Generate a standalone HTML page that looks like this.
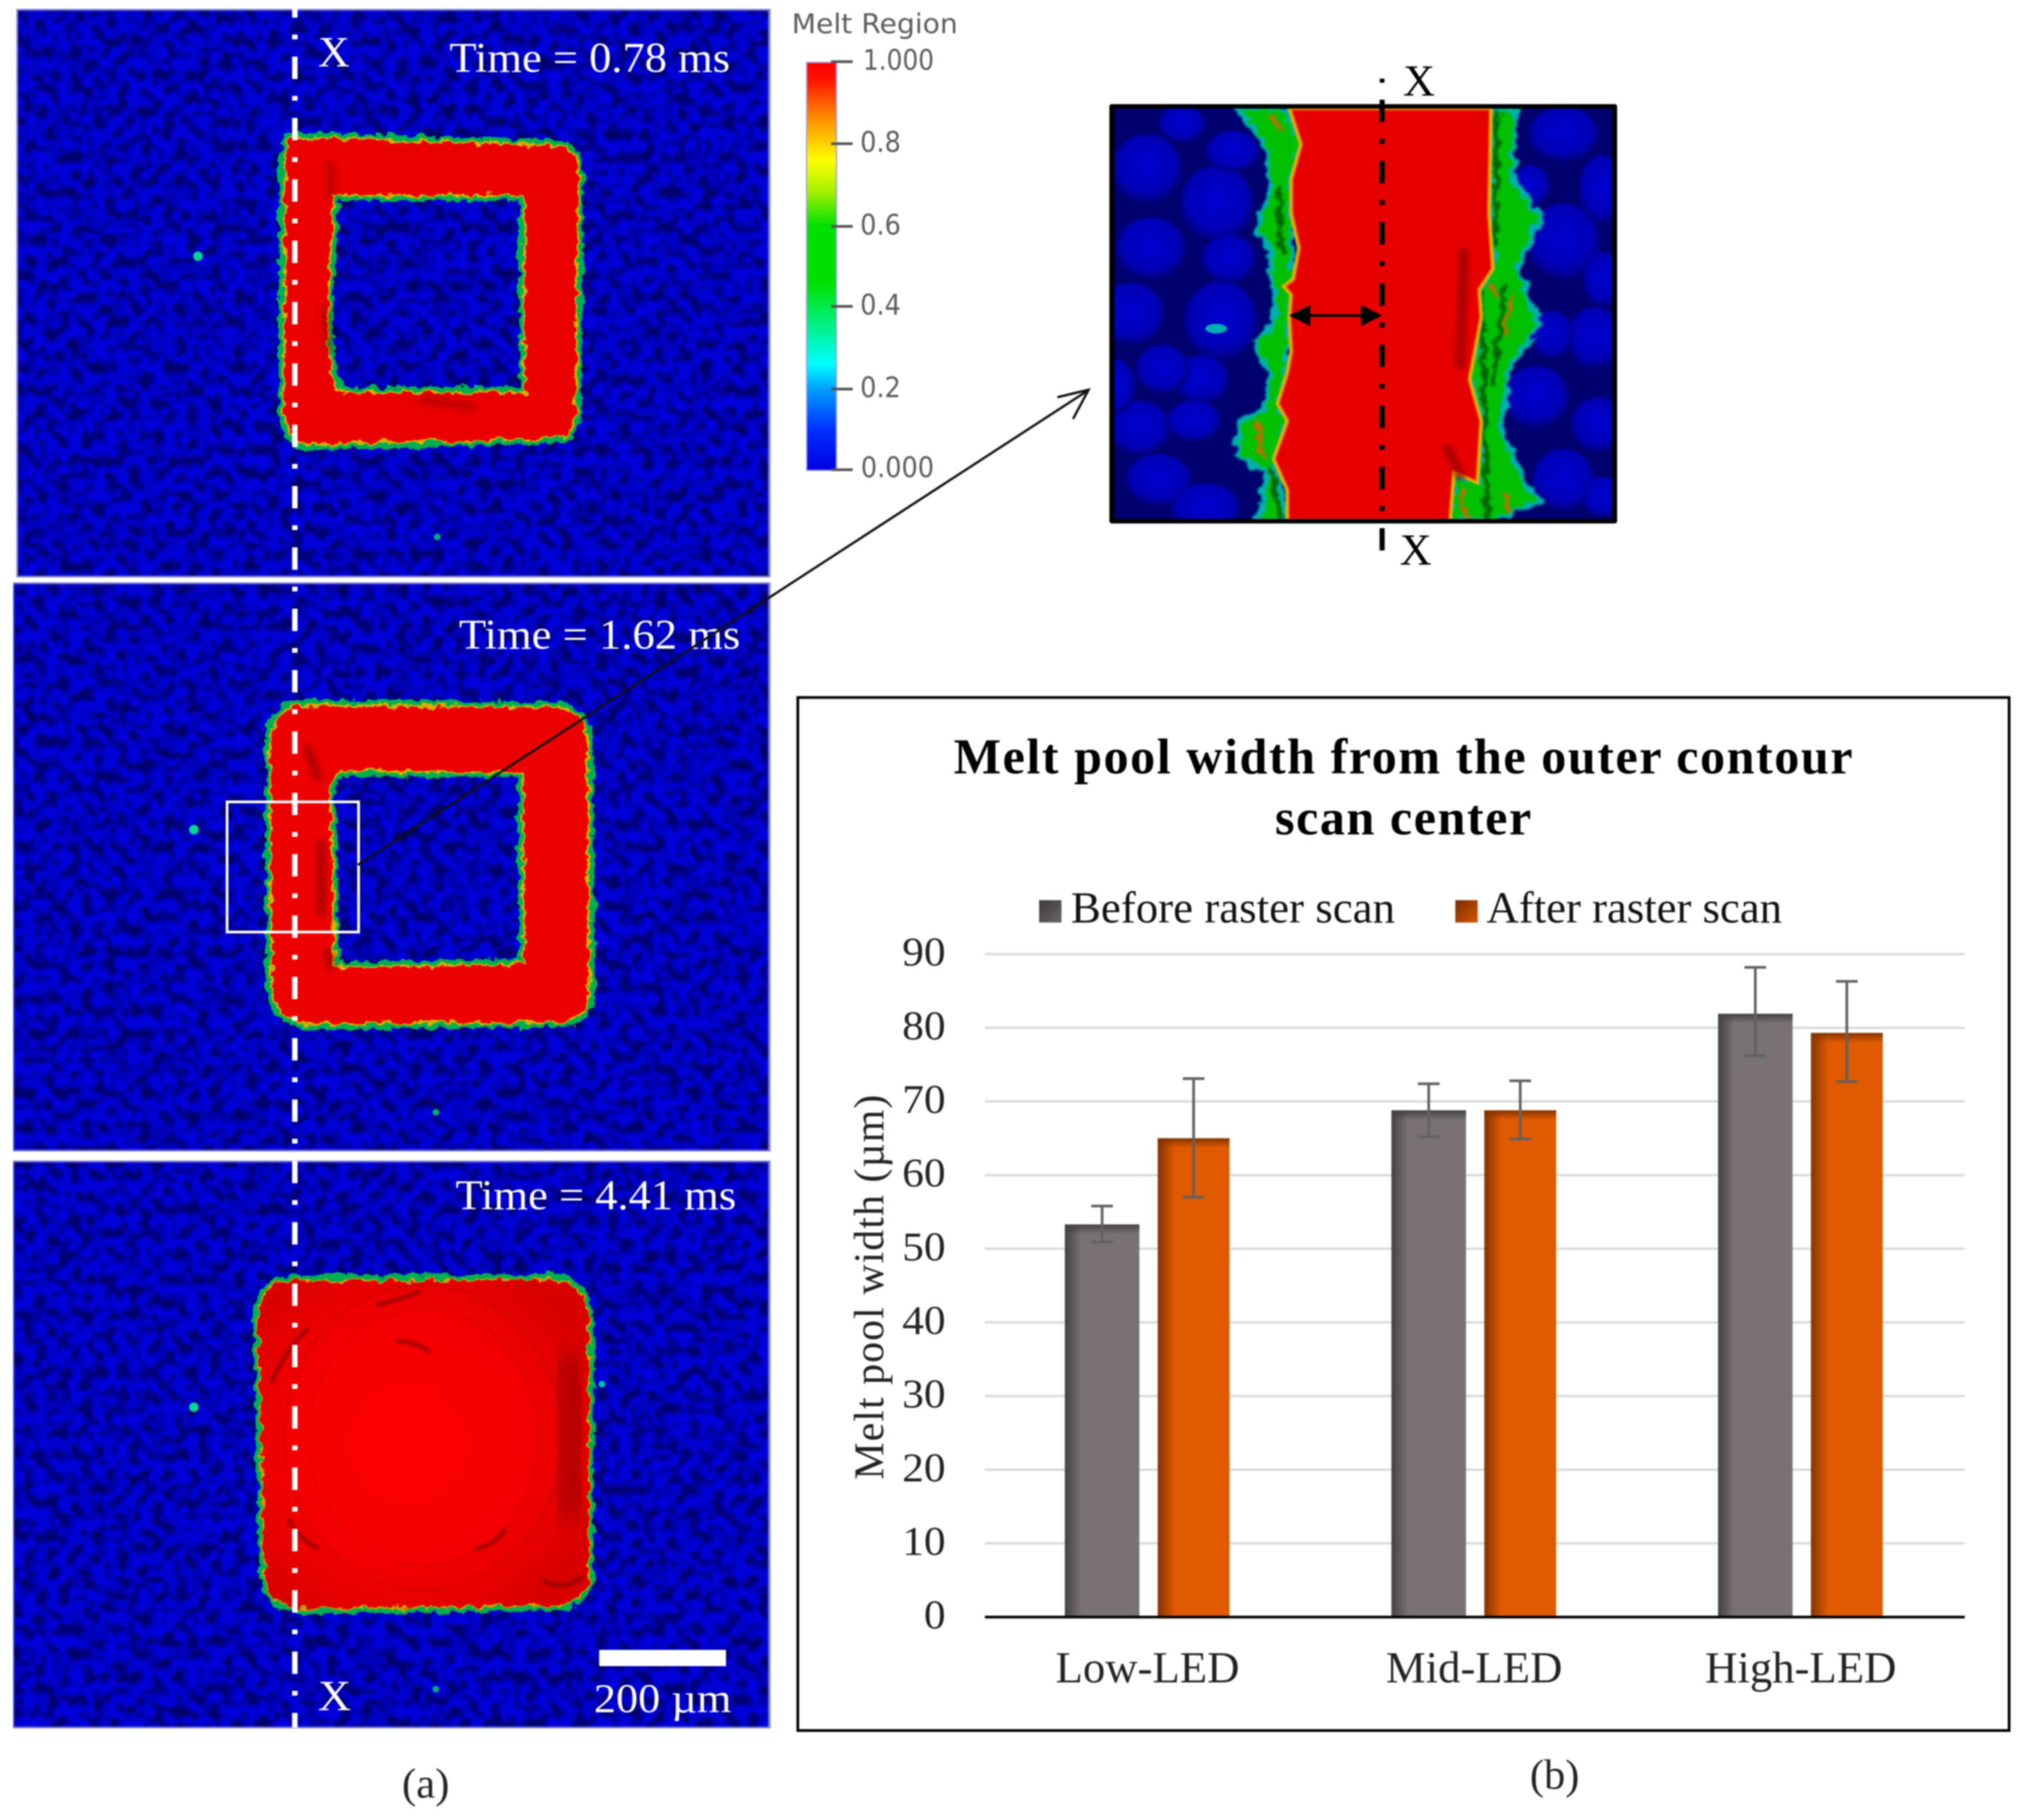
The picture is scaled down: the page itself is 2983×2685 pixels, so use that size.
<!DOCTYPE html>
<html lang="en">
<head>
<meta charset="utf-8">
<title>Melt region simulation and melt pool width chart</title>
<style>
html,body{margin:0;padding:0;background:#fff;}
svg{display:block;filter:blur(1.1px);}
text{font-family:"Liberation Serif",serif;}
.dim{font-family:"DejaVu Sans",sans-serif;fill:#5c5c5c;}
.white{fill:#fff;}
</style>
</head>
<body>
<svg id="root" xmlns="http://www.w3.org/2000/svg" width="2983" height="2685" viewBox="0 0 2983 2685">
<defs>
  <filter id="powder" x="0" y="0" width="1" height="1" color-interpolation-filters="sRGB">
    <feTurbulence type="fractalNoise" baseFrequency="0.058" numOctaves="2" seed="7"/>
    <feColorMatrix type="matrix" values="0 0 0 0 0  0 0 0 0 0  1 0 0 0 0  0 0 0 0 1"/>
    <feComponentTransfer>
      <feFuncB type="table" tableValues="0.4 0.4 0.42 0.5 0.74 0.86 0.86 0.86 0.86"/>
    </feComponentTransfer>
    <feGaussianBlur stdDeviation="1.5"/>
  </filter>
  <filter id="rough" filterUnits="userSpaceOnUse" x="300" y="100" width="700" height="2400" color-interpolation-filters="sRGB">
    <feTurbulence type="fractalNoise" baseFrequency="0.07" numOctaves="3" seed="4" result="n"/>
    <feDisplacementMap in="SourceGraphic" in2="n" scale="16" xChannelSelector="R" yChannelSelector="G"/>
  </filter>
  <filter id="roughInset" x="-20%" y="-10%" width="140%" height="120%" color-interpolation-filters="sRGB">
    <feTurbulence type="fractalNoise" baseFrequency="0.035" numOctaves="3" seed="9" result="n"/>
    <feDisplacementMap in="SourceGraphic" in2="n" scale="36" xChannelSelector="R" yChannelSelector="G"/>
    <feGaussianBlur stdDeviation="3"/>
  </filter>
  <filter id="soft" x="-80%" y="-30%" width="260%" height="160%"><feGaussianBlur stdDeviation="5"/></filter>
  <filter id="softWide" x="-150%" y="-30%" width="400%" height="160%"><feGaussianBlur stdDeviation="16"/></filter>
  <filter id="soft2" x="-50%" y="-50%" width="200%" height="200%"><feGaussianBlur stdDeviation="2"/></filter>
  <linearGradient id="cbar" x1="0" y1="1" x2="0" y2="0">
    <stop offset="0" stop-color="#0000e0"/><stop offset="0.1" stop-color="#0030ff"/>
    <stop offset="0.2" stop-color="#00a0ff"/><stop offset="0.26" stop-color="#00ffff"/>
    <stop offset="0.36" stop-color="#00f080"/><stop offset="0.46" stop-color="#00e000"/>
    <stop offset="0.6" stop-color="#00e000"/><stop offset="0.68" stop-color="#a0f000"/>
    <stop offset="0.76" stop-color="#ffff00"/><stop offset="0.86" stop-color="#ff9000"/>
    <stop offset="0.96" stop-color="#ff1000"/><stop offset="1" stop-color="#ff0000"/>
  </linearGradient>
  <radialGradient id="sphere" cx="0.5" cy="0.45" r="0.55">
    <stop offset="0" stop-color="#0000d0"/><stop offset="0.7" stop-color="#0000b8"/><stop offset="1" stop-color="#00007a"/>
  </radialGradient>
  <radialGradient id="meltFill" gradientUnits="userSpaceOnUse" cx="600" cy="2130" r="300">
    <stop offset="0" stop-color="#ff0000"/><stop offset="0.6" stop-color="#f40000"/><stop offset="1" stop-color="#d80000"/>
  </radialGradient>
  <linearGradient id="barGray" x1="0" y1="0" x2="1" y2="0">
    <stop offset="0" stop-color="#454141"/><stop offset="0.22" stop-color="#7a7272"/><stop offset="1" stop-color="#7a7272"/>
  </linearGradient>
  <linearGradient id="barOrange" x1="0" y1="0" x2="1" y2="0">
    <stop offset="0" stop-color="#843300"/><stop offset="0.24" stop-color="#e05a00"/><stop offset="1" stop-color="#e05a00"/>
  </linearGradient>
  <linearGradient id="legendGray" x1="0" y1="0" x2="1" y2="1">
    <stop offset="0" stop-color="#3d3939"/><stop offset="1" stop-color="#6c6666"/>
  </linearGradient>
  <linearGradient id="legendOrange" x1="0" y1="0" x2="1" y2="1">
    <stop offset="0" stop-color="#762c00"/><stop offset="1" stop-color="#d85500"/>
  </linearGradient>
  <linearGradient id="topGray" x1="0" y1="0" x2="0" y2="1">
    <stop offset="0" stop-color="#444040"/><stop offset="1" stop-color="#444040" stop-opacity="0"/>
  </linearGradient>
  <linearGradient id="topOrange" x1="0" y1="0" x2="0" y2="1">
    <stop offset="0" stop-color="#843300"/><stop offset="1" stop-color="#843300" stop-opacity="0"/>
  </linearGradient>
  <path id="ring1" fill-rule="evenodd" d="M430,204 L825,216 Q848,220 852,255 L848,615 Q846,642 815,645 L450,655 Q426,645 420,610 L421,240 Q421,210 430,204Z M490,287 L775,287 L775,580 L497,580 Q484,540 482,490Z"/>
  <path id="ring2" fill-rule="evenodd" d="M440,1042 L825,1045 Q862,1050 866,1090 L868,1470 Q866,1500 830,1506 L450,1510 Q405,1495 402,1460 L400,1090 Q402,1050 440,1042Z M505,1136 L773,1138 L775,1424 L492,1428 L486,1170 Q488,1140 505,1136Z"/>
  <path id="ring3" d="M430,1890 L825,1888 Q860,1895 868,1945 L868,2330 Q860,2365 825,2368 L435,2372 Q395,2365 390,2320 L382,1930 Q392,1892 430,1890Z"/>
  <clipPath id="insetClip"><rect x="140" y="190" width="1292" height="1200"/></clipPath>
</defs>

<rect width="2983" height="2685" fill="#fff"/>

<!-- Panel 1 -->
<g>
  <rect x="24" y="13" width="1113" height="839" fill="#8f8fdc"/>
  <rect x="26" y="15" width="1108" height="835" filter="url(#powder)"/>
  <g filter="url(#rough)">
    <use href="#ring1" fill="#00b400" stroke="#00b050" stroke-width="19"/>
    <use href="#ring1" fill="#d8c000" stroke="#d8b000" stroke-width="6"/>
    <use href="#ring1" fill="#ea0000"/>
  </g>
  <path d="M488,240 L488,290 M480,450 L484,520 M620,590 L700,600" stroke="#8a0000" stroke-width="10" fill="none" opacity="0.55" filter="url(#soft)"/>
  <circle cx="292" cy="378" r="7" fill="#00d890"/>
  <circle cx="645" cy="792" r="5" fill="#00a880"/>
</g>

<!-- Panel 2 -->
<g>
  <rect x="19" y="859" width="1118" height="840" fill="#8f8fdc"/>
  <rect x="20" y="861" width="1114" height="836" filter="url(#powder)"/>
  <g filter="url(#rough)">
    <use href="#ring2" fill="#00b400" stroke="#00b050" stroke-width="19"/>
    <use href="#ring2" fill="#d8c000" stroke="#d8b000" stroke-width="6"/>
    <use href="#ring2" fill="#ec0000"/>
  </g>
  <path d="M452,1100 L470,1150 M474,1240 L474,1350 M482,1400 L490,1430" stroke="#7a0000" stroke-width="10" fill="none" opacity="0.65" filter="url(#soft)"/>
  <circle cx="286" cy="1224" r="7" fill="#00d890"/>
  <circle cx="643" cy="1641" r="5" fill="#00a880"/>
</g>

<!-- Panel 3 -->
<g>
  <rect x="19" y="1712" width="1118" height="838" fill="#8f8fdc"/>
  <rect x="20" y="1714" width="1114" height="834" filter="url(#powder)"/>
  <g filter="url(#rough)">
    <use href="#ring3" fill="#00b400" stroke="#00b050" stroke-width="17"/>
    <use href="#ring3" fill="#d8a000" stroke="#d8a000" stroke-width="4"/>
    <use href="#ring3" fill="url(#meltFill)"/>
  </g>
  <g fill="none" stroke="#8a0000">
    <ellipse cx="625" cy="2120" rx="170" ry="190" opacity="0.1" stroke-width="4"/>
    <ellipse cx="625" cy="2120" rx="205" ry="225" opacity="0.12" stroke-width="5"/>
    <path d="M835,2000 Q852,2100 838,2240" stroke="#800000" stroke-width="38" opacity="0.55" filter="url(#softWide)"/>
    <path d="M585,1978 Q615,1980 635,1995 M700,2285 Q735,2278 745,2255 M455,1960 Q425,1985 400,2040 M800,2330 Q830,2350 860,2325 M470,2285 Q440,2270 425,2240 M555,1925 Q590,1918 620,1905" stroke="#700000" stroke-width="5" opacity="0.7" filter="url(#soft2)"/>
  </g>
  <circle cx="286" cy="2076" r="7" fill="#00d890"/>
  <circle cx="643" cy="2492" r="5" fill="#00a880"/>
  <circle cx="888" cy="2042" r="5" fill="#00b8b0"/>
</g>

<!-- Section line through panels -->
<line x1="435" y1="-7" x2="435" y2="2549" stroke="#fff" stroke-width="8" stroke-dasharray="33 25 7 25.5"/>

<!-- Panel text -->
<g class="white">
  <text class="white" x="469" y="98" font-size="64" textLength="47" lengthAdjust="spacingAndGlyphs">X</text>
  <text class="white" x="663" y="106" font-size="62" textLength="414" lengthAdjust="spacingAndGlyphs">Time = 0.78 ms</text>
  <text class="white" x="677" y="957" font-size="62" textLength="415" lengthAdjust="spacingAndGlyphs">Time = 1.62 ms</text>
  <text class="white" x="672" y="1784" font-size="62" textLength="414" lengthAdjust="spacingAndGlyphs">Time = 4.41 ms</text>
  <text class="white" x="469" y="2523" font-size="64" textLength="49" lengthAdjust="spacingAndGlyphs">X</text>
  <rect x="884" y="2434" width="187" height="24" fill="#fff"/>
  <text class="white" x="876" y="2526" font-size="60" textLength="203" lengthAdjust="spacingAndGlyphs">200 µm</text>
</g>

<rect x="335" y="1183" width="194" height="192" fill="none" stroke="#fff" stroke-width="4"/>

<!-- Colour bar -->
<g>
  <text class="dim" x="1168" y="49" font-size="40" textLength="245" lengthAdjust="spacingAndGlyphs">Melt Region</text>
  <rect x="1190" y="92" width="44" height="602" fill="url(#cbar)" stroke="#a0a0e8" stroke-width="2"/>
  <g stroke="#555" stroke-width="4">
    <line x1="1226" y1="91" x2="1258" y2="91"/>
    <line x1="1226" y1="212" x2="1258" y2="212"/>
    <line x1="1226" y1="334" x2="1258" y2="334"/>
    <line x1="1226" y1="452" x2="1258" y2="452"/>
    <line x1="1226" y1="574" x2="1258" y2="574"/>
    <line x1="1226" y1="693" x2="1258" y2="693"/>
  </g>
  <text class="dim" x="1273" y="103" font-size="42" textLength="105" lengthAdjust="spacingAndGlyphs">1.000</text>
  <text class="dim" x="1269" y="224" font-size="42" textLength="60" lengthAdjust="spacingAndGlyphs">0.8</text>
  <text class="dim" x="1269" y="346" font-size="42" textLength="60" lengthAdjust="spacingAndGlyphs">0.6</text>
  <text class="dim" x="1269" y="464" font-size="42" textLength="60" lengthAdjust="spacingAndGlyphs">0.4</text>
  <text class="dim" x="1269" y="586" font-size="42" textLength="60" lengthAdjust="spacingAndGlyphs">0.2</text>
  <text class="dim" x="1270" y="704" font-size="42" textLength="108" lengthAdjust="spacingAndGlyphs">0.000</text>
</g>

<!-- Inset -->
<g>
  <g transform="translate(1560 60) scale(0.574 0.51)">
    <g clip-path="url(#insetClip)">
      <rect x="140" y="190" width="1292" height="1200" fill="#00006e"/>
      <g fill="url(#sphere)">
        <ellipse cx="230" cy="370" rx="90" ry="100"/><ellipse cx="410" cy="470" rx="95" ry="110"/><ellipse cx="420" cy="810" rx="95" ry="115"/>
        <ellipse cx="190" cy="790" rx="85" ry="90"/><ellipse cx="240" cy="600" rx="90" ry="90"/><ellipse cx="320" cy="240" rx="60" ry="55"/>
        <ellipse cx="450" cy="320" rx="70" ry="60"/><ellipse cx="370" cy="980" rx="70" ry="70"/><ellipse cx="270" cy="950" rx="70" ry="70"/>
        <ellipse cx="210" cy="1120" rx="80" ry="80"/><ellipse cx="350" cy="1100" rx="70" ry="60"/><ellipse cx="260" cy="1270" rx="85" ry="75"/>
        <ellipse cx="380" cy="1350" rx="90" ry="70"/><ellipse cx="440" cy="630" rx="70" ry="70"/><ellipse cx="150" cy="1000" rx="50" ry="80"/>
        <ellipse cx="1300" cy="580" rx="95" ry="110"/><ellipse cx="1230" cy="1030" rx="85" ry="90"/><ellipse cx="1380" cy="860" rx="70" ry="90"/>
        <ellipse cx="1300" cy="1270" rx="80" ry="90"/><ellipse cx="1390" cy="1110" rx="70" ry="80"/><ellipse cx="1300" cy="270" rx="90" ry="80"/>
        <ellipse cx="1400" cy="430" rx="60" ry="100"/><ellipse cx="1270" cy="850" rx="55" ry="70"/><ellipse cx="1215" cy="420" rx="50" ry="60"/>
        <ellipse cx="1400" cy="1320" rx="50" ry="60"/><ellipse cx="1400" cy="690" rx="50" ry="80"/>
      </g>
      <ellipse cx="408" cy="833" rx="28" ry="14" fill="#00b0b0"/>
      <g filter="url(#roughInset)">
        <polygon points="460,195 590,195 625,300 600,400 605,690 595,800 590,960 565,1050 590,1100 560,1210 590,1385 515,1385 540,1250 460,1200 470,1100 530,1060 550,970 510,880 560,800 545,600 510,550 550,420 530,290" fill="#00c000" stroke="#00b0b0" stroke-width="14"/>
        <polygon points="1115,195 1180,195 1170,400 1240,510 1180,660 1240,820 1160,950 1140,1120 1200,1280 1240,1330 1130,1385 1010,1385 1020,1250 1080,1280 1090,1100 1060,980 1090,800 1085,720 1120,660 1110,500" fill="#00c000" stroke="#00b0b0" stroke-width="14"/>
        <path d="M1130,195 L1125,600 M1090,730 L1105,1390 M1150,700 L1120,1000 M570,420 L575,620 M550,1230 L575,1385" fill="none" stroke="#006800" stroke-width="14"/>
        <path d="M510,1100 L530,1210 M545,210 L575,260 M1150,1300 L1160,1360 M1040,1290 L1050,1380 M1170,730 L1150,850 M1110,700 L1130,740" fill="none" stroke="#e06000" stroke-width="12" opacity="0.8"/>
      </g>
      <polygon points="595,195 625,300 600,400 600,500 620,600 605,690 580,710 600,735 595,800 600,900 590,960 565,1050 590,1100 555,1210 590,1300 590,1390 1010,1390 1020,1250 1080,1280 1090,1100 1060,980 1090,800 1085,720 1120,660 1110,500 1115,195" fill="#e60000" stroke="#e8b000" stroke-width="8" filter="url(#soft2)"/>
      <path d="M1045,600 L1035,950 M1000,1170 L1040,1270" fill="none" stroke="#900000" stroke-width="26" opacity="0.6" filter="url(#soft)"/>
    </g>
    <rect x="140" y="190" width="1292" height="1200" fill="none" stroke="#000" stroke-width="13" stroke-linejoin="round"/>
  </g>
  <rect x="2035.5" y="116" width="7" height="6" fill="#000"/>
  <line x1="2039" y1="147" x2="2039" y2="815" stroke="#000" stroke-width="7.5" stroke-dasharray="33 25 7 25.3"/>
  <g>
    <line x1="1915" y1="465.5" x2="2025" y2="465.5" stroke="#000" stroke-width="4"/>
    <polygon points="1902,465.5 1933,450 1933,481" fill="#000"/>
    <polygon points="2039,465.5 2008,450 2008,481" fill="#000"/>
  </g>
  <text x="2070" y="141" font-size="66" textLength="47" lengthAdjust="spacingAndGlyphs">X</text>
  <text x="2065" y="833" font-size="66" textLength="47" lengthAdjust="spacingAndGlyphs">X</text>
</g>

<!-- Leader arrow -->
<g fill="none" stroke="#111" stroke-width="3.5">
  <line x1="528" y1="1276" x2="1605" y2="576"/>
  <polyline points="1560,586 1606,575 1583,618"/>
</g>

<!-- Bar chart -->
<g id="chart">
  <rect x="1177" y="1029" width="1787" height="1524" fill="#fff" stroke="#000" stroke-width="4"/>
  <text x="1407" y="1141" font-size="74" font-weight="bold" textLength="1326" lengthAdjust="spacing">Melt pool width from the outer contour</text>
  <text x="1881" y="1231" font-size="74" font-weight="bold" textLength="378" lengthAdjust="spacing">scan center</text>
  <g>
    <rect x="1533" y="1328" width="33" height="33" fill="url(#legendGray)"/>
    <text x="1580" y="1361" font-size="66" fill="#111" textLength="478" lengthAdjust="spacing">Before raster scan</text>
    <rect x="2147" y="1328" width="33" height="33" fill="url(#legendOrange)"/>
    <text x="2193" y="1361" font-size="66" fill="#111" textLength="436" lengthAdjust="spacing">After raster scan</text>
  </g>
  <text x="1899" y="1303" font-size="62" fill="#222" text-anchor="middle" transform="rotate(-90 1303 1899) translate(-596 596)" textLength="568" lengthAdjust="spacing">Melt pool width (µm)</text>
  <g id="plot"></g>
  <text x="2257" y="2639" font-size="62" fill="#222" textLength="73" lengthAdjust="spacingAndGlyphs">(b)</text>
</g>
<text x="593" y="2652" font-size="62" fill="#222" textLength="70" lengthAdjust="spacingAndGlyphs">(a)</text>
</svg>

<script>
const categories = ["Low-LED", "Mid-LED", "High-LED"];
const beforeValues = [53.3, 68.8, 81.9];
const afterValues = [65.0, 68.8, 79.3];
const beforeUpper = [55.8, 72.4, 88.2];
const beforeLower = [50.9, 65.2, 76.2];
const afterUpper = [73.1, 72.8, 86.3];
const afterLower = [57.0, 64.9, 72.7];
const yTickLabels = ["0", "10", "20", "30", "40", "50", "60", "70", "80", "90"];
const yTickValues = [0, 10, 20, 30, 40, 50, 60, 70, 80, 90];

const NS = "http://www.w3.org/2000/svg";
const plot = document.getElementById("plot");
const plotLeft = 1453, plotRight = 2898.5, yZero = 2385.6, yMaxPx = 1407.6, yMaxVal = 90;

function xBand(i) {
  return plotLeft + (i + 0.5) * (plotRight - plotLeft) / categories.length;
}
function yScale(v) {
  return yZero - (v / yMaxVal) * (yZero - yMaxPx);
}
function make(tag, attrs) {
  const el = document.createElementNS(NS, tag);
  for (const k in attrs) el.setAttribute(k, attrs[k]);
  plot.appendChild(el);
  return el;
}

yTickValues.forEach(function (v, i) {
  if (v !== 0) {
    const grid = make("line", { x1: plotLeft, x2: plotRight, y1: yScale(v), y2: yScale(v), stroke: "#d9d9d9", "stroke-width": 3.5 });
    
    
  }
  const tick = make("text", { x: 1395, y: yScale(v) + 17, "font-size": 60, fill: "#222", "text-anchor": "end", textLength: yTickLabels[i].length * 32, lengthAdjust: "spacingAndGlyphs" });
  tick.textContent = yTickLabels[i];
  
  
});

function drawBar(i, value, offset, width, fillId, topId, name) {
  const cx = xBand(i) + offset;
  const top = yScale(value);
  const bar = make("rect", { x: cx - width / 2, y: top, width: width, height: yZero - top, fill: "url(#" + fillId + ")" });
  
  
  const shade = make("rect", { x: cx - width / 2, y: top, width: width, height: 14, fill: "url(#" + topId + ")" });
  
  
}
function drawError(i, hi, lo, offset, name) {
  const cx = xBand(i) + offset;
  const stem = make("line", { x1: cx, x2: cx, y1: yScale(hi), y2: yScale(lo), stroke: "#616161", "stroke-width": 4 });
  
  
  const capTop = make("line", { x1: cx - 16, x2: cx + 16, y1: yScale(hi), y2: yScale(hi), stroke: "#616161", "stroke-width": 4 });
  
  
  const capBottom = make("line", { x1: cx - 16, x2: cx + 16, y1: yScale(lo), y2: yScale(lo), stroke: "#616161", "stroke-width": 4 });
  
  
}

categories.forEach(function (c, i) {
  drawBar(i, beforeValues[i], -68, 110, "barGray", "topGray", "bar-before-" + c.toLowerCase());
  drawBar(i, afterValues[i], 67, 106, "barOrange", "topOrange", "bar-after-" + c.toLowerCase());
  drawError(i, beforeUpper[i], beforeLower[i], -68, "error-bar-before");
  drawError(i, afterUpper[i], afterLower[i], 67, "error-bar-after");
  const label = make("text", { x: xBand(i) - 1, y: 2482, "font-size": 66, fill: "#222", "text-anchor": "middle" });
  label.textContent = c;
  
  
});

const axis = make("line", { x1: plotLeft, x2: plotRight, y1: yZero, y2: yZero, stroke: "#000", "stroke-width": 4 });


</script>
</body>
</html>
